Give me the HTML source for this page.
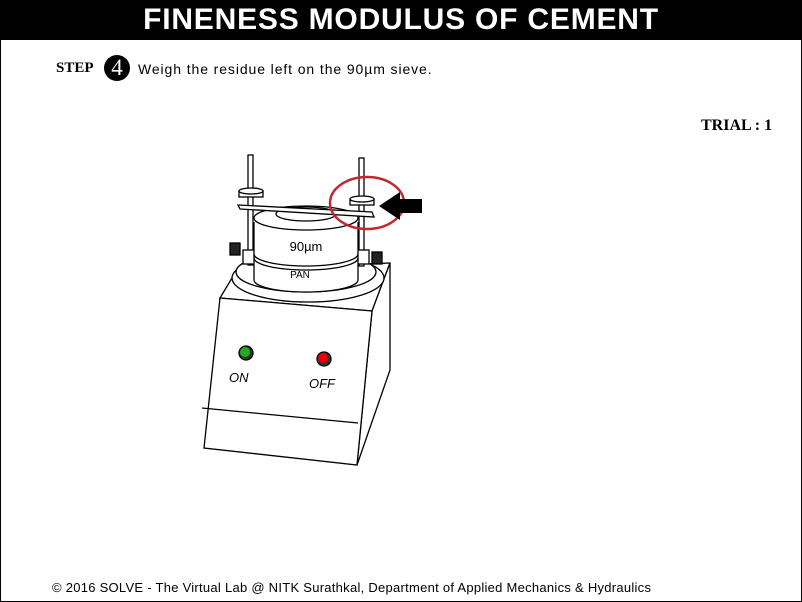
<!DOCTYPE html>
<html><head><style>
body{margin:0;width:802px;height:602px;overflow:hidden;background:#fff;font-family:"Liberation Sans",sans-serif}
.frame{position:absolute;left:0;top:0;width:800px;height:600px;border:1px solid #000;}
.hdr{position:absolute;left:0;top:0;width:802px;height:40px;background:#000;color:#fff;font-weight:bold;font-size:30px;text-align:center;line-height:40px;letter-spacing:0.8px}
.t{position:absolute;white-space:nowrap}
</style></head><body>
<div class="frame"></div>
<div class="hdr">FINENESS MODULUS OF CEMENT</div>
<div class="t" style="left:56px;top:60px;font-family:'Liberation Serif',serif;font-weight:bold;font-size:15px">STEP</div>
<div class="t" style="left:104px;top:55px;width:26px;height:26px;border-radius:50%;background:#000;color:#fff;font-family:'Liberation Serif',serif;font-size:23px;text-align:center;line-height:26px">4</div>
<div class="t" style="left:138px;top:61px;font-size:14px;letter-spacing:0.9px">Weigh the residue left on the 90µm sieve.</div>
<div class="t" style="left:701px;top:117px;font-family:'Liberation Serif',serif;font-weight:bold;font-size:16px">TRIAL : 1</div>
<div class="t" style="left:52px;top:580px;font-size:13px;letter-spacing:0.27px">© 2016 SOLVE - The Virtual Lab @ NITK Surathkal, Department of Applied Mechanics &amp; Hydraulics</div>
<svg class="t" style="left:0;top:0" width="802" height="602" fill="none" stroke="#000" stroke-width="1.3">
<polygon points="220,298 238,268 390,263 372,311" fill="#fff"/>
<polygon points="372,311 390,263 390,370 357,465" fill="#fff"/>
<polygon points="220,298 372,311 357,465 204,448" fill="#fff"/>
<line x1="202" y1="408" x2="358" y2="423"/>
<ellipse cx="308" cy="278" rx="76" ry="24" fill="#fff"/>
<ellipse cx="306" cy="272" rx="70" ry="20" fill="#fff"/>
<rect x="248" y="155" width="5" height="110" fill="#fff"/>
<rect x="359" y="158" width="5" height="108" fill="#fff"/>
<rect x="243" y="250" width="14" height="14" fill="#fff"/>
<rect x="355" y="250" width="14" height="14" fill="#fff"/>
<rect x="230" y="243" width="10" height="12" fill="#222"/>
<rect x="372" y="252" width="10" height="12" fill="#222"/>
<path d="M254 222 V280 A52 12 0 0 0 358 280 V222" fill="#fff"/>
<ellipse cx="306" cy="218" rx="52" ry="12" fill="#fff"/>
<ellipse cx="306" cy="214" rx="30" ry="7"/>
<path d="M254 254 A52 12 0 0 0 358 254"/>
<path d="M254 258 A52 12 0 0 0 358 258"/>
<path d="M238 205 L372 212 L374 217 L240 209 Z" fill="#fff"/>
<rect x="239" y="191" width="24" height="6" fill="#fff"/>
<ellipse cx="251" cy="191" rx="12" ry="3" fill="#fff"/>
<rect x="350" y="199" width="24" height="6" fill="#fff"/>
<ellipse cx="362" cy="199" rx="12" ry="3" fill="#fff"/>
<text x="306" y="251" font-size="13" fill="#000" stroke="none" text-anchor="middle" font-family="Liberation Sans">90µm</text>
<text x="300" y="278" font-size="10" fill="#000" stroke="none" text-anchor="middle" font-family="Liberation Sans">PAN</text>
<circle cx="246" cy="353" r="7" fill="#333"/><circle cx="245" cy="352" r="5" fill="#2a2" stroke="none"/>
<circle cx="324" cy="359" r="7" fill="#333"/><circle cx="323" cy="358" r="5" fill="#e00" stroke="none"/>
<text x="229" y="382" font-size="13" font-style="italic" fill="#000" stroke="none" font-family="Liberation Sans">ON</text>
<text x="309" y="388" font-size="13" font-style="italic" fill="#000" stroke="none" font-family="Liberation Sans">OFF</text>
<ellipse cx="367" cy="203" rx="37" ry="26" stroke="#c0282e" stroke-width="2.5"/>
<polygon points="379,206 400,192 400,199 422,199 422,213 400,213 400,220" fill="#000" stroke="none"/>
</svg>
</body></html>
